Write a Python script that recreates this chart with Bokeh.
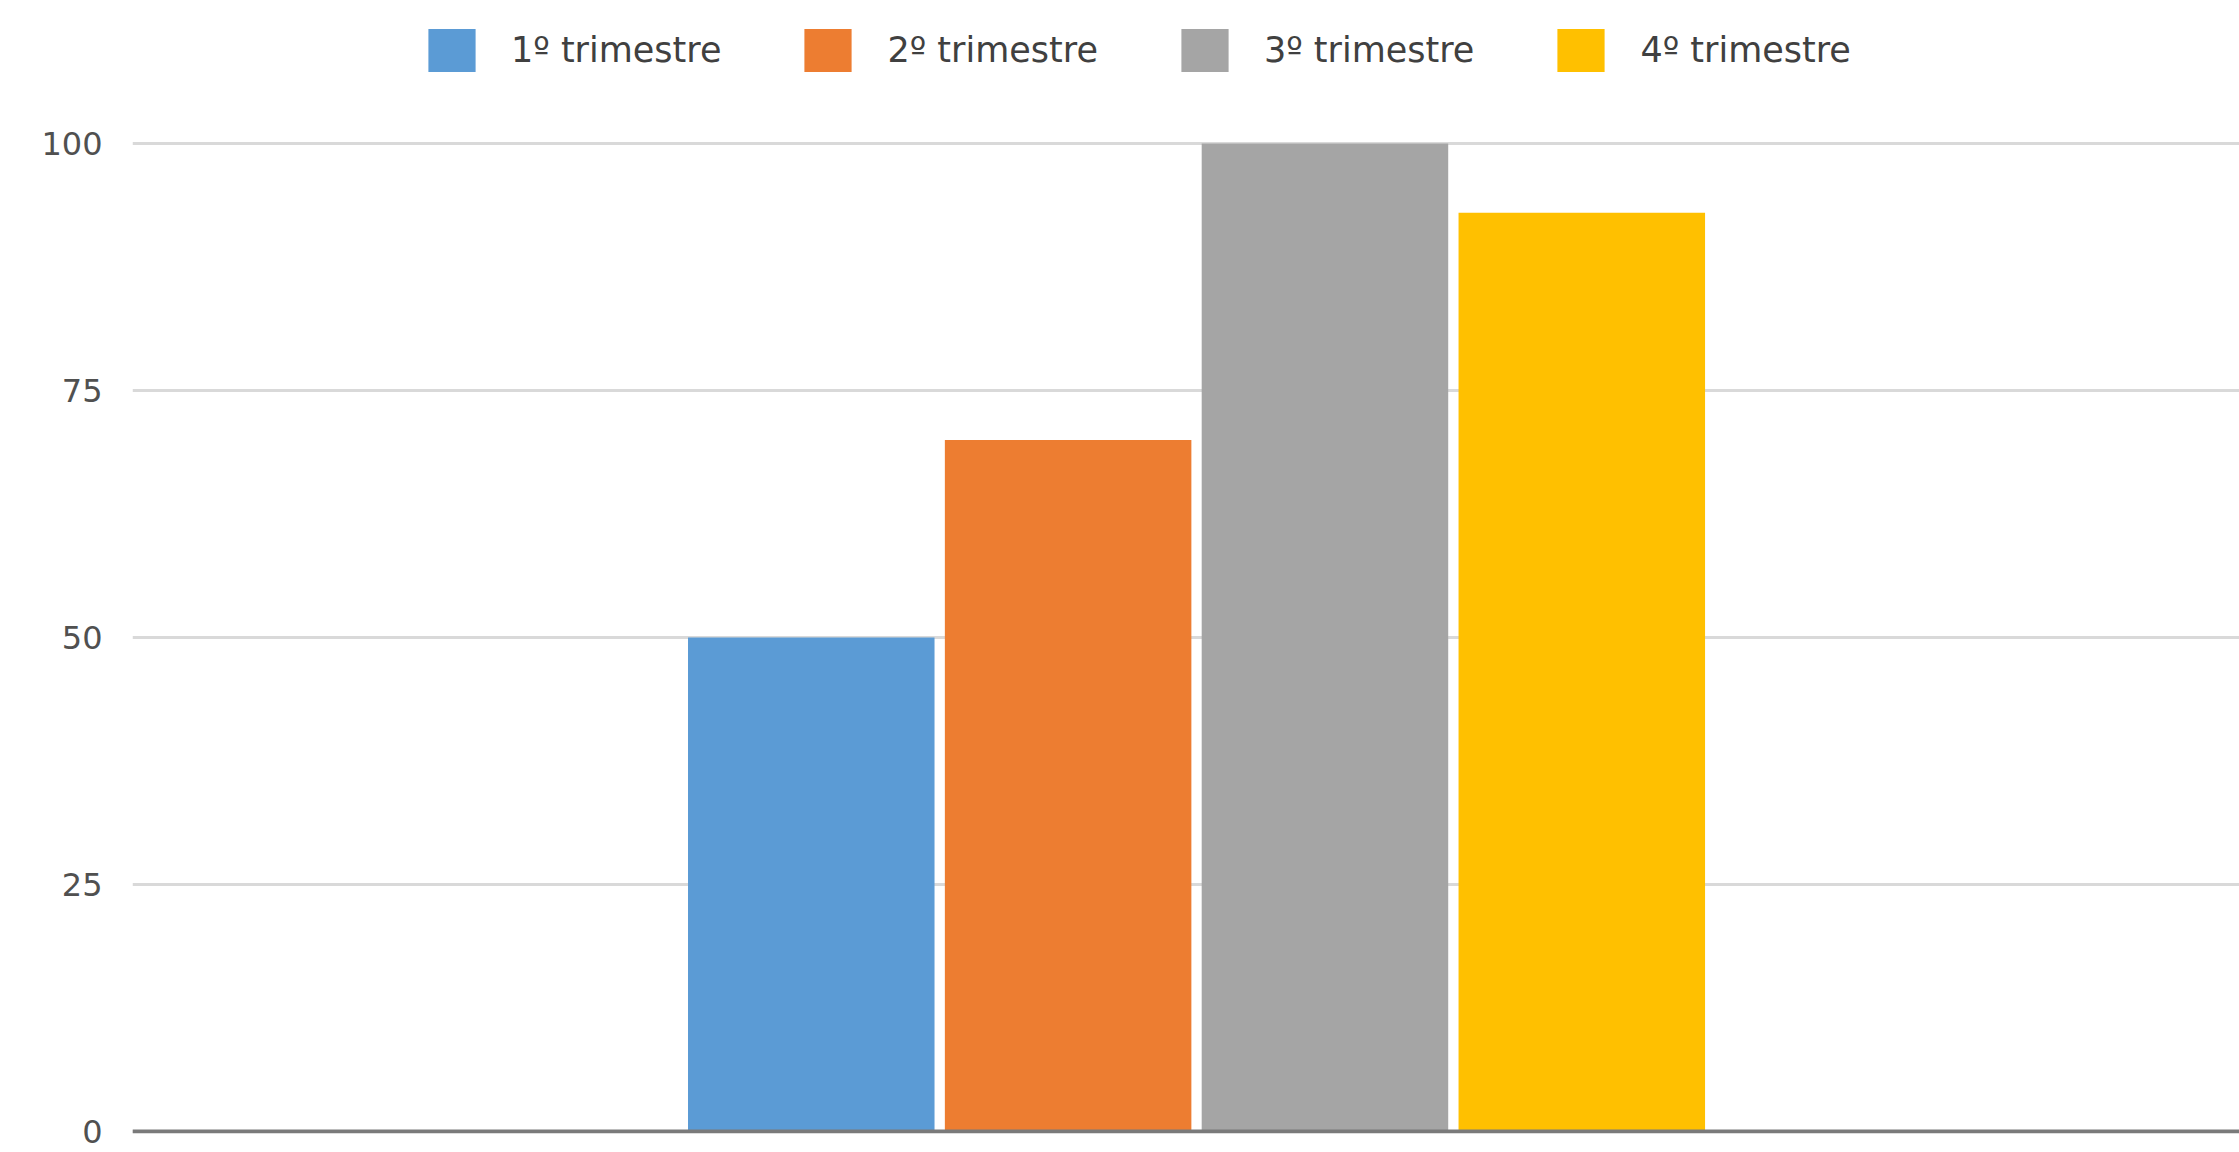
from bokeh.plotting import figure
from bokeh.models import (ColumnDataSource, FactorRange, Range1d, FixedTicker,
                          Legend, LegendItem, Span)
from bokeh.transform import dodge
from bokeh.embed import file_html
from bokeh.resources import INLINE

# Quarterly values, one bar per quarter inside a single group
category = ["Total"]
series = ["1º trimestre", "2º trimestre", "3º trimestre", "4º trimestre"]
values = [50, 70, 100, 93]
colors = ["#5B9BD5", "#ED7D31", "#A5A5A5", "#FFC000"]
y_ticks = [0, 25, 50, 75, 100]

W, H = 2239, 1152
p = figure(width=W, height=H, x_range=FactorRange(factors=category, range_padding=0),
           y_range=Range1d(-0.2, 114.47), output_backend="svg", toolbar_location=None,
           min_border_left=132, min_border_right=0, min_border_top=0, min_border_bottom=19)

p.outline_line_color = None
p.background_fill_color = "white"
p.border_fill_color = "white"

step = 0.1219
bar_w = 0.117
items = []
for i, (name, val, col) in enumerate(zip(series, values, colors)):
    src = ColumnDataSource(dict(cat=category, value=[val]))
    off = (i - 1.5) * step + 0.005
    r = p.vbar(x=dodge("cat", off, range=p.x_range), top="value", bottom=0, width=bar_w,
               source=src, fill_color=col, line_color=None)
    items.append(LegendItem(label=name, renderers=[r]))

# Axes
p.xaxis.visible = False
p.yaxis.ticker = FixedTicker(ticks=y_ticks)
p.yaxis.axis_line_color = None
p.yaxis.major_tick_line_color = None
p.yaxis.minor_tick_line_color = None
p.yaxis.major_label_standoff = 24
p.yaxis.major_label_text_font = "DejaVu Sans"
p.yaxis.major_label_text_font_size = "32px"
p.yaxis.major_label_text_color = "#505050"

p.xgrid.grid_line_color = None
p.ygrid.ticker = FixedTicker(ticks=y_ticks)
p.ygrid.grid_line_color = "#d9d9d9"
p.ygrid.grid_line_width = 3

# Baseline
p.add_layout(Span(location=0, dimension="width", line_color="#7a7a7a", line_width=4))

legend = Legend(items=items, orientation="horizontal", location=(290, 1056),
                glyph_width=59, glyph_height=54, label_standoff=30, spacing=77,
                padding=0, margin=0, border_line_color=None, background_fill_alpha=0,
                label_text_font="DejaVu Sans", label_text_font_size="35px",
                label_text_color="#404040")
p.add_layout(legend, "center")

open("out.html", "w").write(file_html(p, INLINE))
